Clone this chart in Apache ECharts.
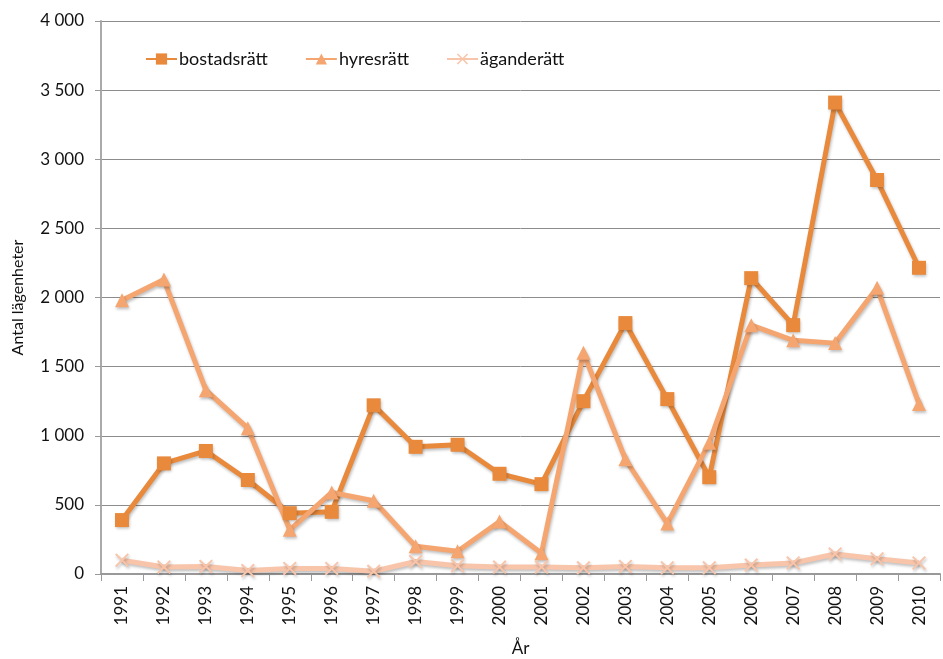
<!DOCTYPE html>
<html>
<head>
<meta charset="utf-8">
<script src="https://cdn.jsdelivr.net/npm/echarts@6/dist/echarts.min.js"></script>
<style>
  html, body { margin: 0; padding: 0; background: #fff; }
  #chart { width: 943px; height: 659px; }
</style>
</head>
<body>
<div id="chart"></div>
<script>
var years = ['1991', '1992', '1993', '1994', '1995', '1996', '1997', '1998', '1999', '2000',
  '2001', '2002', '2003', '2004', '2005', '2006', '2007', '2008', '2009', '2010'];
var bostadsratt = [390, 800, 890, 680, 440, 450, 1220, 920, 935, 725,
  650, 1250, 1815, 1265, 700, 2140, 1800, 3410, 2850, 2215];
var hyresratt = [1980, 2130, 1330, 1055, 320, 590, 530, 200, 165, 380,
  150, 1600, 830, 365, 950, 1800, 1690, 1670, 2070, 1230];
var aganderatt = [100, 50, 55, 25, 40, 40, 20, 90, 60, 50,
  50, 45, 55, 45, 45, 65, 80, 145, 110, 80];

var font = 'Lato, "Open Sans", sans-serif';
var crossPath = 'path://M0,1L1,0L5,4L9,0L10,1L6,5L10,9L9,10L5,6L1,10L0,9L4,5Z';

function mkSeries(name, data, color, symbol, size) {
  return {
    name: name,
    type: 'line',
    data: data,
    symbol: symbol,
    symbolSize: size,
    showAllSymbol: true,
    lineStyle: { width: 5, color: color, shadowColor: 'rgba(0,0,0,0.25)', shadowBlur: 3, shadowOffsetX: 1, shadowOffsetY: 2 },
    itemStyle: { color: color, shadowColor: 'rgba(0,0,0,0.25)', shadowBlur: 3, shadowOffsetX: 1, shadowOffsetY: 2 },
    emphasis: { disabled: true }
  };
}

var chart = echarts.init(document.getElementById('chart'));
chart.setOption({
  animation: false,
  textStyle: { fontFamily: font },
  legend: {
    left: 140,
    top: 45,
    itemGap: 37,
    itemWidth: 31,
    itemHeight: 14,
    textStyle: { fontSize: 18, color: '#111', fontFamily: font, padding: [0, 0, 0, -3] },
    data: ['bostadsrätt', 'hyresrätt', 'äganderätt']
  },
  grid: { left: 101, right: 3, top: 21, bottom: 85, outerBoundsMode: 'none', containLabel: false },
  xAxis: {
    type: 'category',
    data: years,
    name: 'År',
    nameLocation: 'middle',
    nameGap: 66,
    nameTextStyle: { fontSize: 17, color: '#111', fontFamily: font },
    axisLine: { lineStyle: { color: '#999', width: 2 } },
    axisTick: { show: true, length: 7, lineStyle: { color: '#999', width: 1 } },
    axisLabel: { rotate: 90, fontSize: 17, color: '#111', margin: 12, fontFamily: font }
  },
  yAxis: {
    type: 'value',
    min: 0,
    max: 4000,
    interval: 500,
    name: 'Antal lägenheter',
    nameLocation: 'middle',
    nameGap: 75,
    nameTextStyle: { fontSize: 16, color: '#111', fontFamily: font },
    axisLine: { show: true, lineStyle: { color: '#aaa', width: 2 } },
    axisTick: { show: true, length: 6, lineStyle: { color: '#999' } },
    splitLine: { lineStyle: { color: '#8c8c8c', width: 1 } },
    axisLabel: {
      fontSize: 17, color: '#111', margin: 17, fontFamily: font,
      formatter: function (v) {
        return String(v).replace(/\B(?=(\d{3})+(?!\d))/g, ' ');
      }
    }
  },
  series: [
    mkSeries('bostadsrätt', bostadsratt, '#E8893B', 'rect', 14),
    mkSeries('hyresrätt', hyresratt, '#F5A56F', 'triangle', 14),
    mkSeries('äganderätt', aganderatt, '#F8C5AB', crossPath, 14)
  ]
});
</script>
</body>
</html>
